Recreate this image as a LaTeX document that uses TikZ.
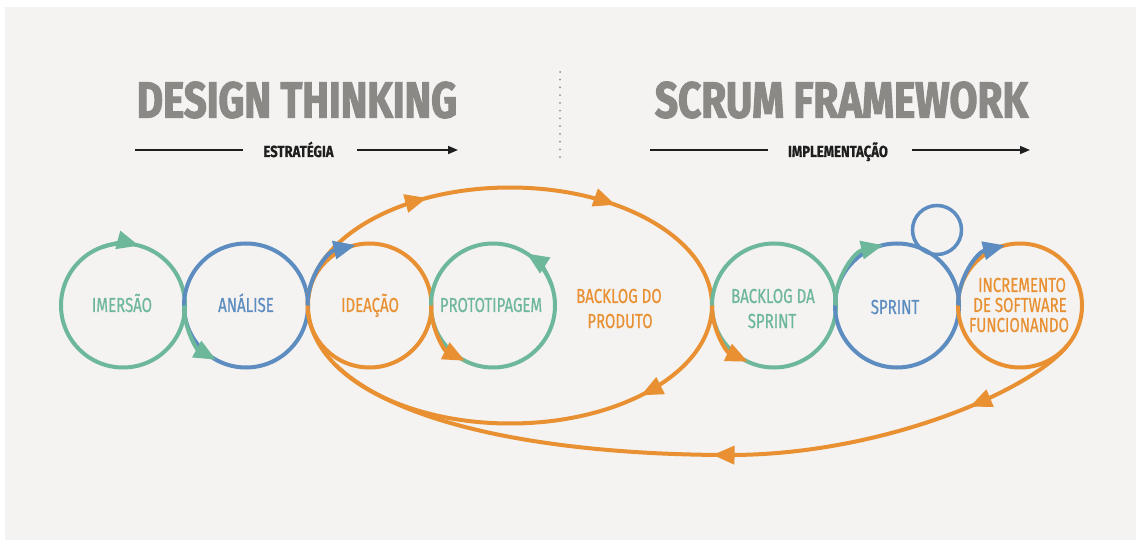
\documentclass[tikz,border=0pt]{standalone}
\usepackage{fontspec}
\usepackage{graphicx}
\usetikzlibrary{arrows.meta,decorations.markings}
\newfontfamily\lblfont[FakeStretch=0.74,FakeBold=0.5]{Fira Sans}
\newfontfamily\ttlfont[FakeStretch=0.72,FakeBold=2]{Fira Sans}
\newfontfamily\subfont[FakeStretch=0.82,FakeBold=0.8]{Fira Sans}
\definecolor{bgc}{RGB}{244,243,241}
\definecolor{grn}{RGB}{109,183,155}
\definecolor{blu}{RGB}{92,140,192}
\definecolor{org}{RGB}{232,144,50}
\definecolor{ttl}{RGB}{138,137,134}
\definecolor{ink}{RGB}{30,30,30}
\definecolor{dotc}{RGB}{140,140,140}
\begin{document}
\begin{tikzpicture}[x=1pt,y=-1pt,
  >={Triangle[length=22pt,width=18pt]},
  ring/.style={circle,draw=#1,line width=4pt,minimum size=124pt,inner sep=0pt},
  lbl/.style={text=#1,inner sep=0pt,anchor=base,font=\lblfont\fontsize{20.3}{24}\selectfont},
  sublbl/.style={text=ink,inner sep=0pt,anchor=base,font=\subfont\bfseries\fontsize{16}{16}\selectfont},
  seg/.style={#1,line width=4pt,->},
  hline/.style={draw=ink,line width=1.6pt},
  harrow/.style={draw=ink,fill=ink,line width=1.6pt,-{Triangle[length=10pt,width=8pt]}},
  marked/.style={postaction={decorate},decoration={markings,#1}}
]
\fill[white] (0,0) rectangle (1136,540);
\fill[bgc] (5,7) rectangle (1136,540);
\useasboundingbox (0,0) rectangle (1136,540);

% titles
\node[inner sep=0pt,text=ttl] (t1) at (297,100) {\resizebox{320pt}{36pt}{\ttlfont\bfseries DESIGN THINKING}};
\node[inner sep=0pt,text=ttl] (t2) at (841.5,100) {\resizebox{373pt}{36pt}{\ttlfont\bfseries SCRUM FRAMEWORK}};
\node[sublbl] (s1) at (298.5,157) {ESTRATÉGIA};
\node[sublbl] (s2) at (838,157) {IMPLEMENTAÇÃO};
\coordinate (l1a) at (135,150); \coordinate (l1b) at (243,150);
\coordinate (a1a) at (357,150); \coordinate (a1b) at (458,150);
\coordinate (l2a) at (650,150); \coordinate (l2b) at (768,150);
\coordinate (a2a) at (912,150); \coordinate (a2b) at (1030,150);
\draw[hline] (l1a) -- (l1b);
\draw[harrow] (a1a) -- (a1b);
\draw[hline] (l2a) -- (l2b);
\draw[harrow] (a2a) -- (a2b);
\coordinate (dv1) at (560,72); \coordinate (dv2) at (560,157.5);
\draw[dotc,line width=2pt,line cap=round,dash pattern=on 0pt off 7.73pt] (dv1) -- (dv2);

% big ellipse (backlog do produto)
\coordinate (bpc) at (510,305.5);
\draw[org,line width=4pt,marked={mark=at position 0.118 with {\arrow{>}},mark=at position 0.668 with {\arrow{>}},mark=at position 0.855 with {\arrow{>}}}]
  (bpc) ellipse [x radius=202, y radius=118];

% circles
\node[ring=grn] (im) at (123,305.5) {};
\node[ring=blu] (an) at (246,305.5) {};
\node[ring=org] (id) at (369.5,305.5) {};
\node[ring=grn] (pr) at (493,305.5) {};
\node[ring=grn] (bs) at (774,305.5) {};
\node[ring=blu] (sp) at (897,305.5) {};
\node[ring=org] (inc) at (1020,305.5) {};
\node[circle,draw=blu,line width=3.5pt,minimum size=49pt,inner sep=0pt] (sm) at (937,230) {};

% connecting arcs with arrowheads
\draw[seg=grn] (im.center) ++(250:62) arc[start angle=250,end angle=285,radius=62];
\draw[seg=grn] (an.center) ++(180:62) arc[start angle=180,end angle=119,radius=62];
\draw[seg=blu] (id.center) ++(180:62) arc[start angle=180,end angle=257,radius=62];
\draw[seg=org] (pr.center) ++(180:62) arc[start angle=180,end angle=117,radius=62];
\draw[seg=grn] (pr.center) ++(340:62) arc[start angle=340,end angle=303,radius=62];
\draw[seg=org] (bs.center) ++(180:62) arc[start angle=180,end angle=115,radius=62];
\draw[seg=grn] (sp.center) ++(180:62) arc[start angle=180,end angle=257,radius=62];
\draw[seg=blu] (inc.center) ++(180:62) arc[start angle=180,end angle=256,radius=62];

% outer loop
\path (inc.center) ++(40:62) coordinate (lpA);
\coordinate (lpB) at (335.1,364.5);
\draw[org,line width=4pt,marked={mark=at position 0.15 with {\arrow{>}},mark=at position 0.49 with {\arrow{>}}}]
  (lpA) .. controls (1030,392) and (880,455) .. (730,455) .. controls (560,455) and (400,428) .. (lpB);

% labels
\node[lbl=grn] (limm) at (122,312) {IMERSÃO};
\node[lbl=blu] (lana) at (246,312) {ANÁLISE};
\node[lbl=org] (lide) at (370,312) {IDEAÇÃO};
\node[lbl=grn] (lpro) at (491,312) {PROTOTIPAGEM};
\node[lbl=org] (lbp1) at (619,303) {BACKLOG DO};
\node[lbl=org] (lbp2) at (620,328) {PRODUTO};
\node[lbl=grn] (lbs1) at (773,303) {BACKLOG DA};
\node[lbl=grn] (lbs2) at (772,328) {SPRINT};
\node[lbl=blu] (lsp) at (895,314) {SPRINT};
\node[lbl=org] (lin1) at (1022,292) {INCREMENTO};
\node[lbl=org] (lin2) at (1020,312) {DE SOFTWARE};
\node[lbl=org] (lin3) at (1019,332) {FUNCIONANDO};
\end{tikzpicture}
\end{document}
